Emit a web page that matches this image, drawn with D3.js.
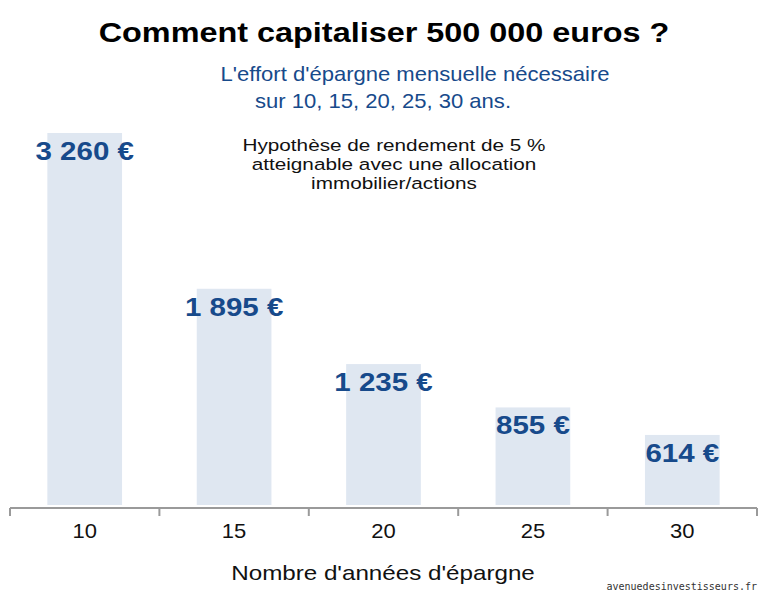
<html>
<head>
<script src="https://d3js.org/d3.v7.min.js"></script>
<style>body{margin:0;background:#fff;font-family:"Liberation Sans",Arial,sans-serif;}</style>
</head>
<body>
<div id="chart"></div>
<script>
var years = ["10", "15", "20", "25", "30"];
var monthly = [3260, 1895, 1235, 855, 614];
var valueLabels = ["3 260 €", "1 895 €", "1 235 €", "855 €", "614 €"];

var width = 767, height = 600;
var margin = {left: 10, right: 10, top: 133, bottom: 95};
var blue = "#174a8b";

var svg = d3.select("#chart").append("svg")
    .attr("width", width).attr("height", height);

// centred text, optionally stretched horizontally
function label(cx, cy, size, sx, txt, color, bold) {
  return svg.append("text")
    .attr("transform", "translate(" + cx + "," + cy + ") scale(" + sx + ",1)")
    .attr("text-anchor", "middle").attr("font-size", size)
    .attr("font-weight", bold ? "bold" : "normal")
    .attr("fill", color).text(txt);
}

var x = d3.scaleBand().domain(years)
    .range([margin.left, width - margin.right])
    .paddingInner(0.5).paddingOuter(0.25);
var y = d3.scaleLinear().domain([0, 3260])
    .range([height - margin.bottom, margin.top]);

svg.append("g").selectAll("rect")
    .data(monthly).enter().append("rect")
    .attr("x", (d, i) => x(years[i]))
    .attr("y", d => y(d))
    .attr("width", x.bandwidth())
    .attr("height", d => y(0) - y(d))
    .attr("fill", "#dfe7f1");

monthly.forEach(function (d, i) {
  label(x(years[i]) + x.bandwidth() / 2, y(d) + 27, 25, 1.18, valueLabels[i], blue, true);
});

// axis with ticks at band boundaries
var axisY = height - margin.bottom + 3;
var step = x.step();
var g = svg.append("g").attr("stroke", "#9a9a9a").attr("stroke-width", 2);
g.append("line").attr("x1", margin.left).attr("x2", width - margin.right)
    .attr("y1", axisY).attr("y2", axisY);
var bounds = years.map(d => x(d) + x.bandwidth() / 2 - step / 2)
    .concat([x(years[4]) + x.bandwidth() / 2 + step / 2]);
g.selectAll(".tk").data(bounds).enter().append("line")
    .attr("x1", d => d).attr("x2", d => d)
    .attr("y1", axisY).attr("y2", axisY + 8);

years.forEach(function (d) {
  label(x(d) + x.bandwidth() / 2, 538, 20, 1.1, d, "#111");
});

label(383, 580, 20.5, 1.18, "Nombre d'années d'épargne", "#111");
label(384, 42, 27, 1.2, "Comment capitaliser 500 000 euros ?", "#000", true);
label(415, 81, 21, 1.05, "L'effort d'épargne mensuelle nécessaire", blue);
label(383, 108, 21, 1.05, "sur 10, 15, 20, 25, 30 ans.", blue);

["Hypothèse de rendement de 5 %", "atteignable avec une allocation", "immobilier/actions"]
  .forEach(function (t, i) {
    label(394, 151 + i * 19, 17, 1.22, t, "#111");
  });

svg.append("text").attr("x", 757).attr("y", 590).attr("text-anchor", "end")
    .attr("font-family", "DejaVu Sans Mono, monospace").attr("font-size", 10)
    .attr("fill", "#333").text("avenuedesinvestisseurs.fr");
</script>
</body>
</html>
